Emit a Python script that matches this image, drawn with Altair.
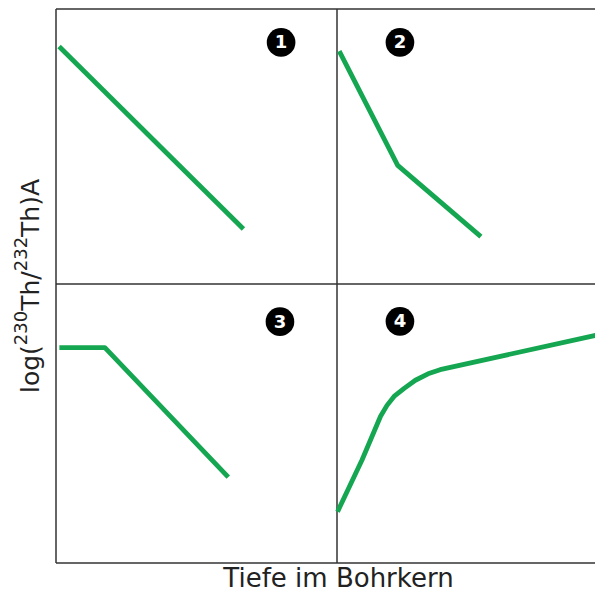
import altair as alt
import pandas as pd

# ---- data (panel-local coordinates, 0..1 within each panel) ----
panel_ids = [1, 2, 3, 4]
panel_col = [0, 1, 0, 1]
panel_row = [1, 1, 0, 0]

p1_x = [0.011, 0.667]
p1_y = [0.851, 0.197]
p2_x = [0.008, 0.216, 0.512]
p2_y = [0.835, 0.425, 0.170]
p3_x = [0.012, 0.174, 0.613]
p3_y = [0.772, 0.772, 0.308]
p4_x = [0.002, 0.089, 0.155, 0.178, 0.203, 0.239, 0.279, 0.324, 0.367, 0.960]
p4_y = [0.184, 0.369, 0.526, 0.565, 0.597, 0.626, 0.655, 0.678, 0.693, 0.825]

badge_x = [0.801, 0.224, 0.797, 0.224]
badge_y = [0.866, 0.866, 0.865, 0.866]
badge_labels = ["1", "2", "3", "4"]

x_title = "Tiefe im Bohrkern"
# y title pieces and superscript flags
y_title_parts = ["log(", "230", "Th/", "232", "Th)A"]
y_title_sup = [False, True, False, True, False]

# ---- layout (pixels) ----
PLOT_W, PLOT_H = 539, 554
UNIT_X, UNIT_Y = 281, 279
XMAX = PLOT_W / UNIT_X
YMAX = PLOT_H / UNIT_Y
MAIN_FS, SUP_FS = 25, 18
TITLE_CENTER = 277  # px from plot top

# approximate DejaVu Sans advance widths (em) for laying out the pieces
adv = {"l": 0.278, "o": 0.612, "g": 0.635, "(": 0.390, "T": 0.611, "h": 0.634,
       "/": 0.337, ")": 0.390, "A": 0.684}
for d in "0123456789":
    adv[d] = 0.636
lens = [sum(adv[ch] for ch in p) * (SUP_FS if s else MAIN_FS)
        for p, s in zip(y_title_parts, y_title_sup)]
total = sum(lens)
pos = []
cur = TITLE_CENTER + total / 2
for L in lens:
    pos.append(cur)
    cur -= L

# ---- build tables ----
rows = []
for pid, xs_, ys_ in zip(panel_ids, [p1_x, p2_x, p3_x, p4_x], [p1_y, p2_y, p3_y, p4_y]):
    c = panel_col[pid - 1]
    r = panel_row[pid - 1]
    for i, (lx, ly) in enumerate(zip(xs_, ys_)):
        rows.append({"panel": pid, "order": i, "x": c + lx, "y": r + ly})
lines_df = pd.DataFrame(rows)

badges_df = pd.DataFrame({
    "label": badge_labels,
    "x": [panel_col[i] + badge_x[i] for i in range(4)],
    "y": [panel_row[i] + badge_y[i] for i in range(4)],
})

frame_df = pd.DataFrame({
    "x": [0, 1, 0, 0, 0],
    "x2": [0, 1, XMAX, XMAX, XMAX],
    "y": [0, 0, 0, 1, YMAX],
    "y2": [YMAX, YMAX, 0, 1, YMAX],
})

xs = alt.Scale(domain=[0, XMAX], nice=False, zero=False)
ys = alt.Scale(domain=[0, YMAX], nice=False, zero=False)

frame = alt.Chart(frame_df).mark_rule(color="#333333", strokeWidth=1.5).encode(
    x=alt.X("x:Q", scale=xs, axis=None),
    x2="x2:Q",
    y=alt.Y("y:Q", scale=ys, axis=None),
    y2="y2:Q",
)

lines = alt.Chart(lines_df).mark_line(
    color="#14a650", strokeWidth=4.8, strokeCap="butt", strokeJoin="round", clip=True
).encode(
    x=alt.X("x:Q", scale=xs, axis=None),
    y=alt.Y("y:Q", scale=ys, axis=None),
    detail="panel:N",
    order="order:Q",
)

circles = alt.Chart(badges_df).mark_circle(color="#000000", opacity=1, size=820).encode(
    x=alt.X("x:Q", scale=xs, axis=None),
    y=alt.Y("y:Q", scale=ys, axis=None),
)

digits = alt.Chart(badges_df).mark_text(
    color="white", font="DejaVu Sans", fontWeight="bold", fontSize=18,
    align="center", baseline="middle", dy=1
).encode(
    x=alt.X("x:Q", scale=xs, axis=None),
    y=alt.Y("y:Q", scale=ys, axis=None),
    text="label:N",
)

xt = alt.Chart(pd.DataFrame({"t": [x_title]})).mark_text(
    font="DejaVu Sans", fontSize=26, color="#222222", align="center", baseline="alphabetic"
).encode(text="t:N", x=alt.value(282.5), y=alt.value(577.5))

title_df = pd.DataFrame({"t": y_title_parts, "sup": y_title_sup, "pos": pos})
pix = alt.Scale(domain=[0, PLOT_H], range=[0, PLOT_H])

yt_main = alt.Chart(title_df).transform_filter("!datum.sup").mark_text(
    font="DejaVu Sans", fontSize=MAIN_FS, color="#222222", align="left", baseline="alphabetic", angle=270
).encode(text="t:N", x=alt.value(-17), y=alt.Y("pos:Q", scale=pix, axis=None))

yt_sup = alt.Chart(title_df).transform_filter("datum.sup").mark_text(
    font="DejaVu Sans", fontSize=SUP_FS, color="#222222", align="left", baseline="alphabetic", angle=270
).encode(text="t:N", x=alt.value(-29), y=alt.Y("pos:Q", scale=pix, axis=None))

chart = alt.layer(frame, lines, circles, digits, xt, yt_main, yt_sup).resolve_scale(
    y="independent"
).properties(
    width=PLOT_W,
    height=PLOT_H,
    autosize=alt.AutoSizeParams(type="none"),
    padding={"left": 48, "top": 1, "right": 0, "bottom": 30},
).configure_view(strokeWidth=0)

chart.save("out.html", embed_options={"renderer": "svg", "actions": False})
